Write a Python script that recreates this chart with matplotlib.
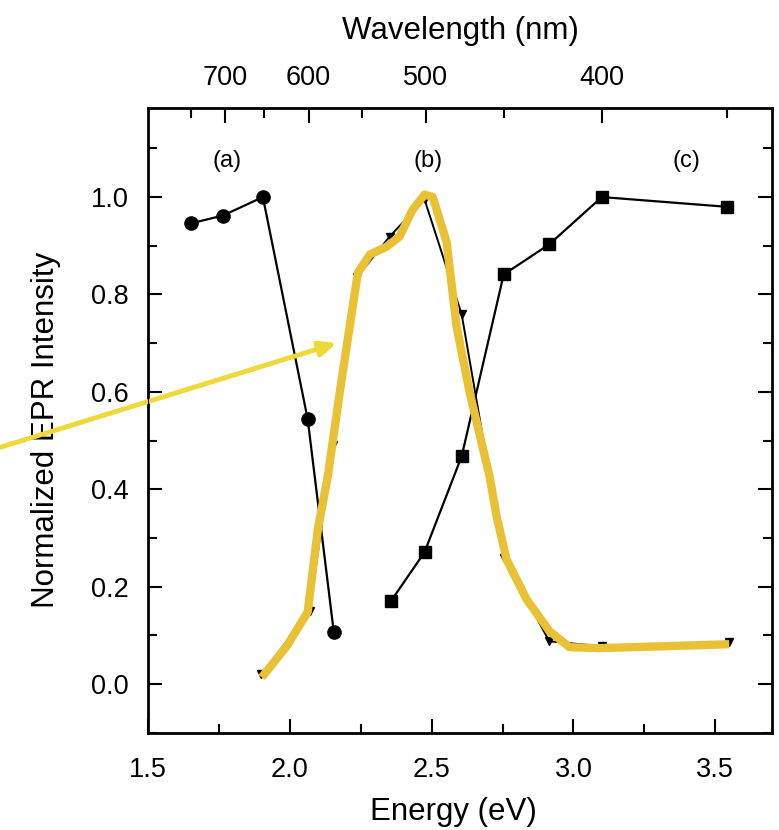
import matplotlib
matplotlib.use("Agg")
import matplotlib.pyplot as plt
from matplotlib.ticker import MultipleLocator, FormatStrFormatter

plt.rcParams['font.family'] = ['Liberation Sans', 'DejaVu Sans']

# (a) circles
a_energy = [1.651, 1.764, 1.905, 2.063, 2.155]
a_int = [0.946, 0.962, 1.0, 0.544, 0.107]

# (b) triangles
b_energy = [1.90, 2.07, 2.152, 2.236, 2.352, 2.475, 2.606, 2.754, 2.915, 3.099, 3.55]
b_int = [0.02, 0.15, 0.492, 0.835, 0.919, 0.995, 0.759, 0.26, 0.088, 0.078, 0.086]

# (c) squares
c_energy = [2.356, 2.475, 2.606, 2.754, 2.915, 3.10, 3.54]
c_int = [0.170, 0.271, 0.468, 0.841, 0.903, 1.0, 0.98]

# yellow highlight traced over (b)
hl_energy = [1.901, 1.989, 2.063, 2.099, 2.134, 2.176, 2.211, 2.24, 2.282, 2.341, 2.387,
             2.433, 2.475, 2.504, 2.553, 2.588, 2.634, 2.704, 2.729, 2.764, 2.835, 2.915,
             2.986, 3.092, 3.327, 3.549]
hl_int = [0.014, 0.078, 0.148, 0.318, 0.427, 0.599, 0.734, 0.845, 0.882, 0.898, 0.919,
          0.974, 1.005, 1.0, 0.907, 0.734, 0.599, 0.427, 0.345, 0.256, 0.174, 0.109,
          0.076, 0.074, 0.078, 0.082]

wl_major = [700, 600, 500, 400]
wl_minor = [750, 650, 550, 450, 350]

fig = plt.figure(figsize=(7.79, 8.30), dpi=100)
ax = fig.add_axes([0.19, 0.117, 0.801, 0.753])

ax.plot(a_energy, a_int, color='black', lw=1.6, marker='o', markersize=9.5, zorder=3)
ax.plot(b_energy, b_int, color='black', lw=1.4, marker='v', markersize=6, zorder=2)
ax.plot(c_energy, c_int, color='black', lw=1.6, marker='s', markersize=9, zorder=3)
ax.plot(hl_energy, hl_int, color='#E8C234', lw=6, solid_capstyle='butt',
        solid_joinstyle='round', zorder=4)

ax.text(1.778, 1.075, '(a)', ha='center', va='center', fontsize=17)
ax.text(2.486, 1.075, '(b)', ha='center', va='center', fontsize=17)
ax.text(3.40, 1.075, '(c)', ha='center', va='center', fontsize=17)

ax.set_xlim(1.5, 3.7)
ax.set_ylim(-0.1, 1.183)
ax.xaxis.set_major_locator(MultipleLocator(0.5))
ax.xaxis.set_minor_locator(MultipleLocator(0.25))
ax.yaxis.set_major_locator(MultipleLocator(0.2))
ax.yaxis.set_minor_locator(MultipleLocator(0.1))
ax.xaxis.set_major_formatter(FormatStrFormatter('%.1f'))
ax.yaxis.set_major_formatter(FormatStrFormatter('%.1f'))
ax.tick_params(which='both', direction='in', top=False, right=True, width=1.5)
ax.tick_params(which='major', length=10, labelsize=19.5)
ax.tick_params(which='minor', length=6.5)
ax.tick_params(axis='x', which='major', pad=17)
ax.tick_params(axis='y', which='major', pad=14)
for s in ax.spines.values():
    s.set_linewidth(2)

ax.set_xlabel('Energy (eV)', fontsize=22.5)
ax.set_ylabel('Normalized EPR Intensity', fontsize=22.5)
ax.xaxis.set_label_coords(0.49, -0.103)
ax.yaxis.set_label_coords(-0.14, 0.485)

top = ax.twiny()
top.set_xlim(ax.get_xlim())
top.set_xticks([1239.84 / w for w in wl_major])
top.set_xticklabels([str(w) for w in wl_major])
top.set_xticks([1239.84 / w for w in wl_minor], minor=True)
top.tick_params(which='both', direction='in', width=1.5, labelsize=19.5)
top.tick_params(which='major', length=11, pad=12)
top.tick_params(which='minor', length=7)
top.set_xlabel('Wavelength (nm)', fontsize=22.5, labelpad=19)

ax.annotate('', xy=(2.165, 0.70), xycoords='data',
            xytext=(0.0, 0.461), textcoords='figure fraction',
            arrowprops=dict(arrowstyle='-|>,head_length=1.0,head_width=0.45',
                            color='#EED83A', lw=3.5, shrinkA=0, shrinkB=0),
            annotation_clip=False, zorder=5)

fig.savefig('out.png', dpi=100)
